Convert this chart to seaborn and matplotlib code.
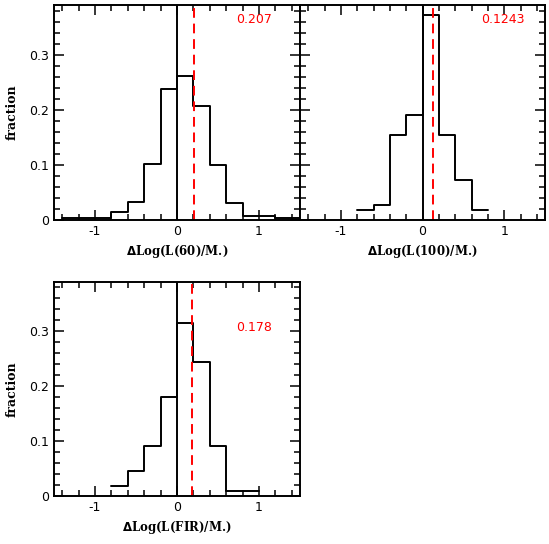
import numpy as np
import matplotlib
matplotlib.use("Agg")
import matplotlib.pyplot as plt
import seaborn as sns
from matplotlib.ticker import MultipleLocator

# bin edges (width 0.2) and fractions per bin
edges_60 = [-1.4, -1.2, -1.0, -0.8, -0.6, -0.4, -0.2, 0.0, 0.2, 0.4, 0.6, 0.8, 1.0, 1.2, 1.4, 1.6]
frac_60 = [0.003, 0.003, 0.003, 0.015, 0.033, 0.101, 0.238, 0.261, 0.206, 0.099, 0.030, 0.008, 0.008, 0.003, 0.003]

edges_100 = [-0.8, -0.6, -0.4, -0.2, 0.0, 0.2, 0.4, 0.6, 0.8]
frac_100 = [0.018, 0.028, 0.155, 0.191, 0.371, 0.155, 0.073, 0.018]

edges_fir = [-0.8, -0.6, -0.4, -0.2, 0.0, 0.2, 0.4, 0.6, 0.8, 1.0]
frac_fir = [0.019, 0.045, 0.092, 0.181, 0.316, 0.244, 0.092, 0.0097, 0.0097]

offsets = [0.207, 0.1243, 0.178]
offset_labels = ["0.207", "0.1243", "0.178"]
xlabels = [r"$\mathbf{\Delta}$Log(L(60)/M.)", r"$\mathbf{\Delta}$Log(L(100)/M.)", r"$\mathbf{\Delta}$Log(L(FIR)/M.)"]

sns.set_style("ticks")
plt.rcParams["font.family"] = ["DejaVu Sans"]
plt.rcParams["text.color"] = "black"
plt.rcParams["xtick.color"] = "black"
plt.rcParams["ytick.color"] = "black"
plt.rcParams["axes.edgecolor"] = "black"
plt.rcParams["axes.labelcolor"] = "black"

fig = plt.figure(figsize=(5.49, 5.44), dpi=100)
rects = [
    [54 / 549, 1 - 220 / 544, 246 / 549, 215 / 544],
    [300 / 549, 1 - 220 / 544, 245 / 549, 215 / 544],
    [54 / 549, 1 - 496 / 544, 246 / 549, 214 / 544],
]
panels = [(edges_60, frac_60), (edges_100, frac_100), (edges_fir, frac_fir)]
text_y = [0.358, 0.358, 0.30]

for i, (edges, fr) in enumerate(panels):
    ax = fig.add_axes(rects[i])
    centers = (np.array(edges[:-1]) + np.array(edges[1:])) / 2
    sns.histplot(x=centers, weights=fr, bins=edges, element="step", fill=False,
                 color="black", linewidth=1.4, ax=ax)
    ax.axvline(0, color="black", lw=1.4)
    ax.axvline(offsets[i], color="red", lw=1.4, ls=(0, (5, 3)))
    ax.text(0.72, text_y[i], offset_labels[i], color="red", fontsize=9)
    ax.set_xlim(-1.5, 1.5)
    ax.set_ylim(0, 0.39)
    ax.xaxis.set_major_locator(MultipleLocator(1))
    ax.xaxis.set_minor_locator(MultipleLocator(0.2))
    ax.yaxis.set_major_locator(MultipleLocator(0.1))
    ax.yaxis.set_minor_locator(MultipleLocator(0.02))
    ax.tick_params(which="both", direction="in", top=True, right=True, labelsize=9, width=1.1)
    ax.tick_params(which="major", length=7)
    ax.tick_params(which="minor", length=4)
    ax.set_yticks([0, 0.1, 0.2, 0.3])
    ax.set_yticklabels(["0", "0.1", "0.2", "0.3"])
    ax.set_xticks([-1, 0, 1])
    ax.set_xticklabels(["-1", "0", "1"])
    for s in ax.spines.values():
        s.set_linewidth(1.4)
    ax.set_xlabel(xlabels[i], family="DejaVu Serif", fontweight="bold", fontsize=8.5, labelpad=4)
    if i == 1:
        ax.set_ylabel("")
        ax.set_yticklabels([])
    else:
        ax.set_ylabel("fraction", family="DejaVu Serif", fontweight="bold", fontsize=9, labelpad=8)

fig.savefig("out.png", dpi=100)
